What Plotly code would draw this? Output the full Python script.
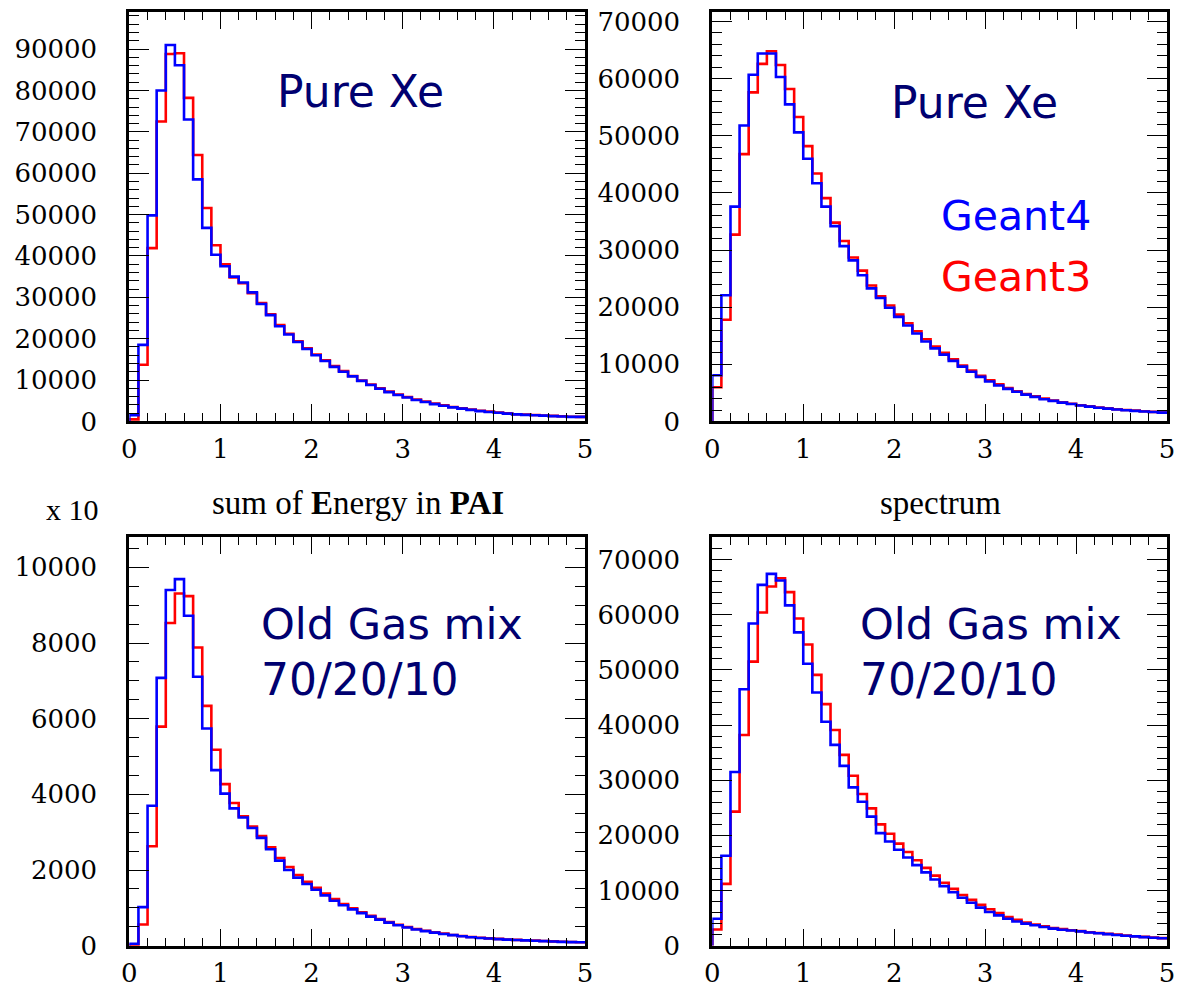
import plotly.graph_objects as go

# ---------------- data (bin width 0.1, range 0..5) ----------------
bin_edges = [round(i * 0.1, 1) for i in range(51)]

xe_sum_g4 = [1500, 18500, 49800, 80000, 91000, 86100, 73000, 58500, 46800, 40300,
             37500, 35000, 33600, 31200, 28400, 25700, 23000, 21000, 19200, 17500,
             16000, 14600, 13200, 12000, 10900, 9800, 8800, 7900, 7100, 6400,
             5800, 5200, 4700, 4200, 3800, 3400, 3100, 2800, 2500, 2300,
             2100, 1900, 1700, 1600, 1500, 1400, 1300, 1200, 1100, 1100]
xe_sum_g3 = [500, 13700, 41900, 72500, 88800, 89000, 78200, 64400, 51600, 42600,
             38000, 34800, 33400, 31000, 28600, 25900, 23300, 21200, 19400, 17700,
             16200, 14800, 13400, 12200, 11000, 9900, 8900, 8000, 7200, 6500,
             5900, 5300, 4800, 4300, 3900, 3500, 3200, 2900, 2600, 2400,
             2150, 1950, 1750, 1650, 1550, 1450, 1350, 1250, 1150, 1100]

xe_spec_g4 = [8100, 22100, 37600, 51800, 60700, 64400, 64400, 60300, 55500, 50600,
              46000, 41700, 37600, 34200, 30700, 28200, 25600, 23300, 21600, 19900,
              18300, 16800, 15400, 14000, 12800, 11700, 10600, 9600, 8700, 7800,
              7000, 6300, 5700, 5200, 4700, 4300, 3900, 3600, 3300, 3050,
              2800, 2600, 2400, 2250, 2100, 1950, 1850, 1750, 1650, 1550]
xe_spec_g3 = [6000, 17800, 32700, 46800, 57600, 62600, 64800, 62400, 58200, 53300,
              48200, 43400, 39100, 34800, 31600, 28700, 26400, 23800, 21900, 20300,
              18700, 17200, 15800, 14400, 13100, 12000, 10900, 9800, 8900, 8000,
              7200, 6500, 5850, 5300, 4800, 4400, 4000, 3650, 3350, 3100,
              2850, 2650, 2450, 2300, 2150, 2000, 1900, 1780, 1680, 1580]

mix_sum_g4 = [50, 1020, 3700, 7080, 9400, 9690, 8720, 7110, 5740, 4640,
              4020, 3630, 3390, 3110, 2850, 2550, 2250, 2000, 1800, 1630,
              1480, 1330, 1190, 1070, 960, 860, 770, 690, 610, 540,
              480, 430, 385, 345, 310, 280, 250, 225, 205, 190,
              175, 160, 150, 140, 130, 120, 110, 100, 95, 90]
mix_sum_g3 = [20, 560, 2630, 5790, 8530, 9310, 9240, 7880, 6340, 5180,
              4270, 3770, 3420, 3150, 2900, 2600, 2320, 2080, 1870, 1690,
              1530, 1380, 1230, 1100, 990, 885, 790, 705, 625, 555,
              495, 440, 395, 355, 320, 285, 255, 230, 210, 195,
              180, 165, 155, 145, 135, 125, 115, 105, 98, 92]

mix_spec_g4 = [4900, 16300, 31500, 46500, 58400, 65400, 67400, 66200, 61700, 56800,
               51100, 45900, 40600, 36400, 32600, 28700, 26100, 23400, 20400, 18900,
               17400, 16000, 14600, 13300, 12000, 10800, 9700, 8700, 7800, 6900,
               6100, 5500, 4900, 4400, 4000, 3700, 3400, 3100, 2900, 2750,
               2600, 2400, 2250, 2100, 1950, 1800, 1700, 1550, 1450, 1350]
mix_spec_g3 = [2950, 11200, 24300, 38200, 51500, 60400, 65100, 66600, 64100, 59300,
               54600, 49100, 43800, 39100, 34600, 30800, 27500, 24900, 22000, 20300,
               18500, 17000, 15500, 14100, 12700, 11400, 10300, 9200, 8300, 7400,
               6600, 5900, 5200, 4700, 4200, 3850, 3500, 3200, 3000, 2800,
               2650, 2450, 2300, 2150, 2000, 1850, 1720, 1600, 1480, 1380]

y_ticks_top_left = [0, 10000, 20000, 30000, 40000, 50000, 60000, 70000, 80000, 90000]
y_ticks_top_right = [0, 10000, 20000, 30000, 40000, 50000, 60000, 70000]
y_ticks_bot_left = [0, 2000, 4000, 6000, 8000, 10000]
y_ticks_bot_right = [0, 10000, 20000, 30000, 40000, 50000, 60000, 70000]
x_ticks = [0, 1, 2, 3, 4, 5]

# ---------------- figure ----------------
W, H = 1177, 995
BLUE = "#0000ff"
RED = "#ff0000"
NAVY = "#000070"
TICKFONT = "DejaVu Serif, serif"
SERIF = "Liberation Serif, DejaVu Serif, serif"
HAND = "Comic Sans MS, DejaVu Sans, sans-serif"


def px_x(p):
    return p / W


def px_y(p):
    return 1 - p / H


def step(values):
    xs = [0.0] + bin_edges
    ys = [0] + list(values) + [values[-1]]
    return xs, ys


fig = go.Figure()

panels = [
    (xe_sum_g4, xe_sum_g3, "x", "y"),
    (xe_spec_g4, xe_spec_g3, "x2", "y2"),
    (mix_sum_g4, mix_sum_g3, "x3", "y3"),
    (mix_spec_g4, mix_spec_g3, "x4", "y4"),
]
for g4, g3, xa, ya in panels:
    for vals, col, name in ((g3, RED, "Geant3"), (g4, BLUE, "Geant4")):
        xs, ys = step(vals)
        fig.add_trace(go.Scatter(x=xs, y=ys, mode="lines", name=name,
                                 line=dict(color=col, width=2.6, shape="hv"),
                                 xaxis=xa, yaxis=ya, showlegend=False))

left_x = [px_x(123), px_x(585)]
right_x = [px_x(714), px_x(1175)]
top_y = [px_y(425), px_y(7)]
bot_y = [px_y(960), px_y(543)]

common = dict(showline=True, linecolor="black", linewidth=3, mirror="allticks",
              ticks="inside", tickcolor="black", tickwidth=1.2, showgrid=False,
              zeroline=False, tickfont=dict(family=TICKFONT, size=26, color="black"))


def xaxis(domain, anchor):
    return dict(domain=domain, anchor=anchor, range=[0, 5], tickvals=x_ticks,
                ticklen=17, ticklabelstandoff=2,
                minor=dict(dtick=0.2, ticklen=8, ticks="inside", tickcolor="black", tickwidth=1),
                **common)


def yaxis(domain, anchor, rng, tv, mdt):
    return dict(domain=domain, anchor=anchor, range=rng, tickvals=tv,
                ticktext=[str(v) for v in tv], ticklen=20, ticklabelstandoff=24,
                minor=dict(dtick=mdt, ticklen=10, ticks="inside", tickcolor="black", tickwidth=1),
                **common)


fig.update_layout(
    width=W, height=H,
    margin=dict(l=0, r=0, t=0, b=0),
    paper_bgcolor="white", plot_bgcolor="white",
    xaxis=xaxis(left_x, "y"),
    yaxis=yaxis(top_y, "x", [0, 99000], y_ticks_top_left, 2000),
    xaxis2=xaxis(right_x, "y2"),
    yaxis2=yaxis(top_y, "x2", [0, 71700], y_ticks_top_right, 2000),
    xaxis3=xaxis(left_x, "y3"),
    yaxis3=yaxis(bot_y, "x3", [0, 10800], y_ticks_bot_left, 500),
    xaxis4=xaxis(right_x, "y4"),
    yaxis4=yaxis(bot_y, "x4", [0, 74070], y_ticks_bot_right, 2000),
)

ann = []


def add_text(x, y, text, size, color, family, xanchor="center"):
    ann.append(dict(x=px_x(x), y=px_y(y), xref="paper", yref="paper", text=text,
                    showarrow=False, xanchor=xanchor, yanchor="middle",
                    font=dict(family=family, size=size, color=color)))


add_text(357, 88, "Pure Xe", 44, NAVY, HAND)
add_text(980, 100, "Pure Xe", 44, NAVY, HAND)
add_text(1022, 215, "Geant4", 41, BLUE, HAND)
add_text(1022, 278, "Geant3", 41, RED, HAND)
add_text(254, 632, "Old Gas mix", 43, NAVY, HAND, "left")
add_text(254, 688, "70/20/10", 44, NAVY, HAND, "left")
add_text(862, 632, "Old Gas mix", 43, NAVY, HAND, "left")
add_text(862, 688, "70/20/10", 44, NAVY, HAND, "left")
add_text(355, 508, "sum of <b>E</b>nergy in <b>PAI</b>", 33, "black", SERIF)
add_text(945, 508, "spectrum", 33, "black", SERIF)
add_text(65, 515, "x 10", 30, "black", SERIF)

fig.update_layout(annotations=ann)
fig.write_html("out.html")
